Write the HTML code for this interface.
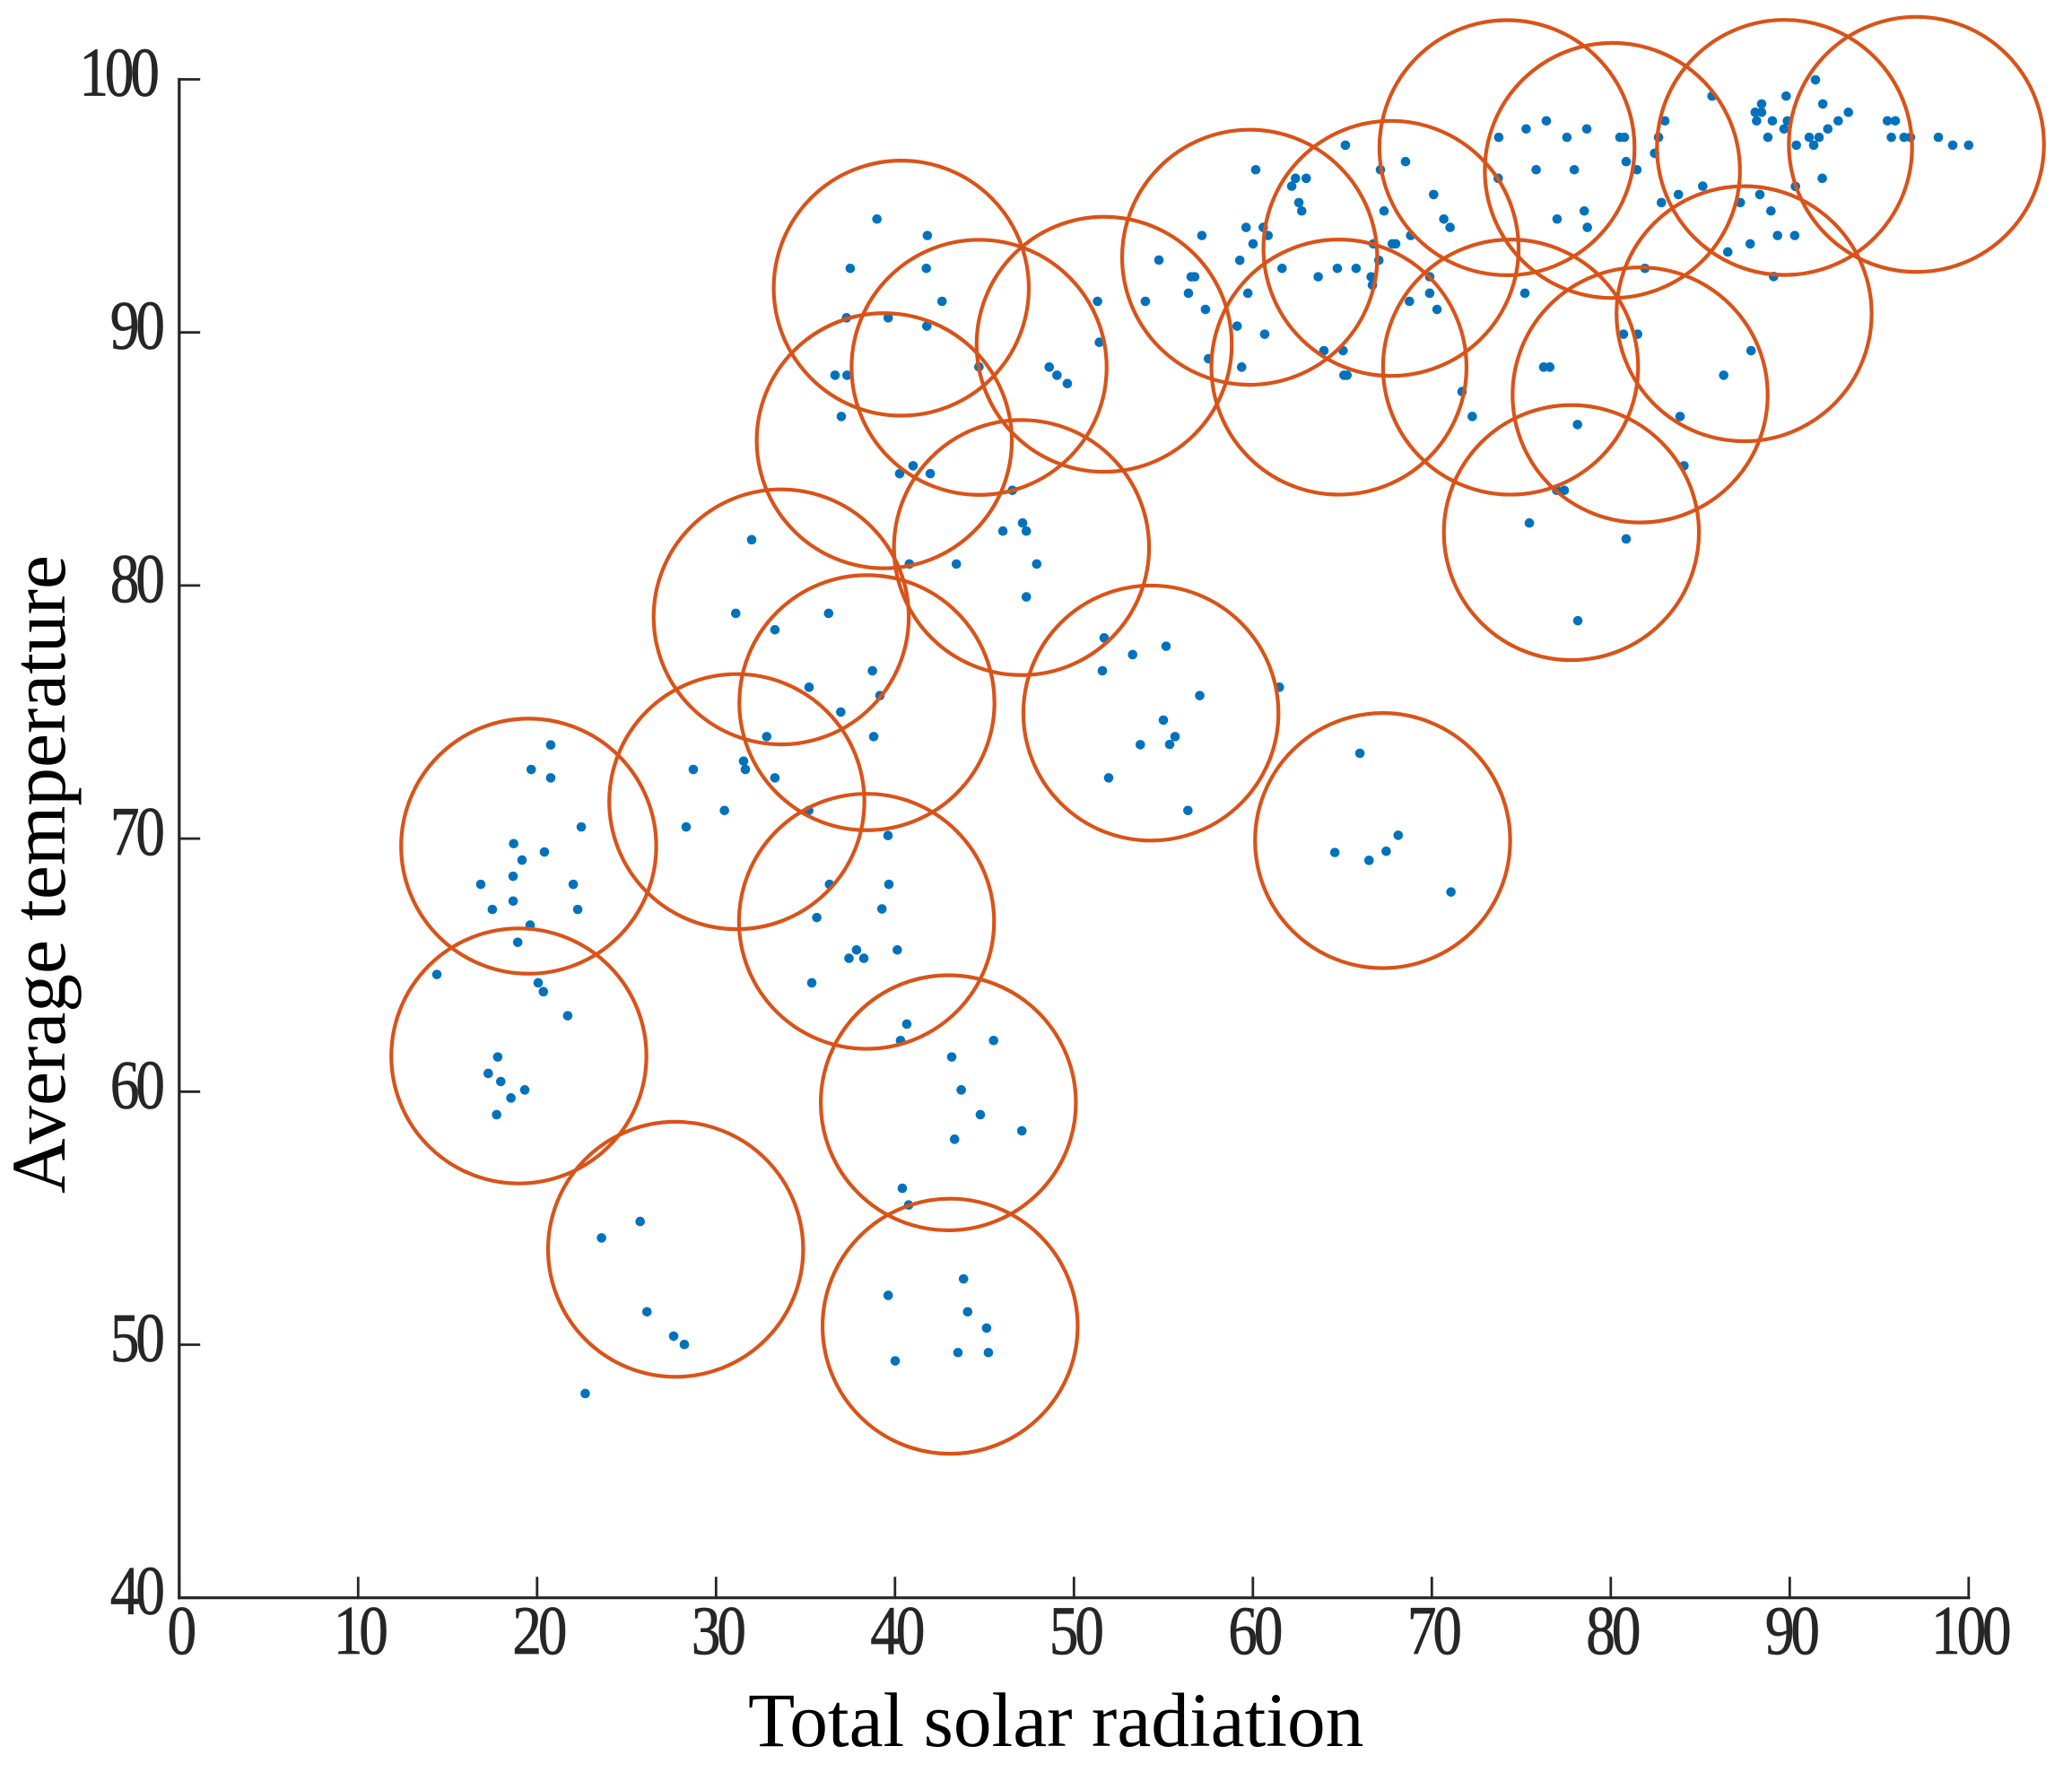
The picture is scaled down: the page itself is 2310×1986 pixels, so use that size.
<!DOCTYPE html>
<html lang="en">
<head>
<meta charset="utf-8">
<title>Total solar radiation vs average temperature</title>
<style>
html,body{margin:0;padding:0;background:#fff;}
svg{display:block;}
text{font-family:"Liberation Serif",serif;}
.tick-label{font-size:77px;fill:#262626;stroke:#262626;stroke-width:0.7px;letter-spacing:-5px;}
.axis-title{font-size:85.4px;fill:#000;}
</style>
</head>
<body>
<svg id="chart" xmlns="http://www.w3.org/2000/svg" width="2310" height="1986" viewBox="0 0 2310 1986">
  <g id="points"></g>
  <g id="circles"></g>
  <g id="axes"></g>
  <text class="axis-title" x="834" y="1947">Total solar radiation</text>
  <text class="axis-title" transform="translate(72,1331) rotate(-90)">Average temperature</text>
</svg>
<script>
const xTicks = [0,10,20,30,40,50,60,70,80,90,100];
const yTicks = [40,50,60,70,80,90,100];
const xTickLabels = ["0","10","20","30","40","50","60","70","80","90","100"];
const yTickLabels = ["40","50","60","70","80","90","100"];

const pointX = [22.69,23.60,25.76,26.14,27.63,28.23,
14.40,20.06,20.35,21.71,17.80,17.27,17.97,19.31,18.54,17.74,
20.76,19.67,20.76,22.47,18.69,20.41,19.16,18.66,16.85,22.02,18.66,17.50,22.27,19.61,18.92,
32.83,31.54,31.64,28.73,33.29,30.47,35.18,28.33,36.34,35.63,37.43,35.35,37.85,40.13,38.26,39.61,39.66,39.27,40.66,40.31,45.51,43.17,43.70,44.77,47.09,43.33,40.41,40.76,43.83,39.62,44.06,45.12,43.52,45.22,40.01,
38.99,41.81,37.50,41.75,42.63,37.29,39.62,41.78,44.69,36.65,37.32,37.00,41.01,40.26,41.97,46.56,47.13,47.34,46.03,47.92,43.43,40.80,31.99,47.34,31.10,36.29,33.29,38.74,35.20,39.16,36.97,38.81,51.32,51.42,48.62,49.05,49.63,54.75,53.99,
60.16,65.17,62.38,62.98,62.17,62.57,62.73,57.15,59.62,60.58,60.85,60.01,59.27,56.55,56.75,56.40,57.35,59.72,61.63,63.65,64.72,65.77,66.73,67.04,66.61,66.68,67.79,67.98,68.82,67.33,67.13,68.53,70.10,70.67,71.02,69.88,69.88,68.75,70.29,75.20,73.74,75.27,76.40,77.55,75.83,73.71,77.00,59.12,60.66,57.52,59.37,63.97,65.04,65.09,65.26,71.69,72.26,76.25,76.59,76.98,77.40,75.45,
78.66,80.51,80.76,83.02,82.67,82.45,80.86,81.46,77.96,78.52,78.69,85.66,88.43,88.07,88.43,88.15,89.03,89.87,89.68,88.78,89.80,91.44,91.85,93.28,92.71,92.13,91.64,91.09,91.34,90.37,95.46,95.90,95.68,96.39,96.75,98.31,99.11,100.0,91.82,90.32,85.14,83.78,82.83,87.24,88.33,88.95,89.32,90.28,87.79,86.54,89.10,81.91,80.71,81.50,87.84,86.31,83.87,78.14,84.09,80.86,78.16,
51.69,53.28,55.15,51.59,55.00,53.71,55.35,55.65,51.94,56.37,57.03,61.48,
65.98,64.58,66.49,67.45,68.12,71.07];

const pointY = [48.07,54.22,54.87,51.30,50.34,50.01,
64.63,64.30,63.95,63.00,61.37,60.72,60.40,60.07,59.75,59.09,
73.70,72.73,72.40,70.46,69.80,69.47,69.15,68.51,68.19,68.19,67.53,67.20,67.20,66.58,65.90,
74.03,73.06,72.73,72.73,72.40,71.11,71.11,70.46,68.19,66.88,65.27,64.30,65.60,65.60,65.27,70.12,68.19,67.22,62.67,62.02,62.02,61.37,60.07,59.09,58.45,58.12,56.18,55.52,52.60,51.95,51.30,50.66,49.69,49.69,49.36,
94.48,93.83,92.53,92.53,91.23,90.58,90.58,90.25,88.64,88.31,88.31,86.68,84.73,84.42,84.42,83.76,82.47,82.15,82.15,80.85,80.85,80.85,81.81,79.55,78.90,78.90,78.25,76.63,75.98,75.65,75.00,74.03,91.23,89.61,88.63,88.31,87.98,92.86,91.23,
96.43,97.40,96.09,96.09,95.78,95.13,94.80,93.83,94.15,94.15,93.83,93.50,92.85,92.20,92.20,91.55,90.91,91.55,92.53,92.20,92.53,92.53,93.50,92.85,92.20,91.87,93.50,93.50,93.83,94.80,96.43,96.75,95.45,94.48,94.15,92.20,91.55,91.23,90.91,91.55,97.71,98.04,98.36,97.71,96.43,96.09,94.48,90.25,89.93,88.96,88.63,89.28,89.28,88.31,88.31,87.66,86.68,88.63,88.63,83.76,83.76,82.47,
98.04,97.71,97.71,98.36,97.71,97.08,96.75,96.43,96.43,94.80,94.15,99.34,99.03,98.70,98.70,98.36,98.36,98.36,98.04,97.71,99.34,99.98,99.03,98.70,98.36,98.04,97.71,97.71,97.40,97.40,98.36,98.36,97.71,97.71,97.71,97.71,97.40,97.40,96.09,95.77,95.78,95.45,95.13,95.13,95.45,94.80,93.83,93.83,93.50,93.18,92.21,92.53,89.93,89.93,89.28,88.31,86.68,86.36,84.73,81.84,78.61,
77.93,77.27,77.60,76.63,74.68,73.71,73.72,74.03,72.40,71.11,75.65,75.98,
73.37,69.45,69.14,69.50,70.13,67.89];

const circleX = [40.35,44.70,51.69,39.40,47.07,33.64,38.43,31.16,19.53,18.98,38.41,42.98,43.08,27.74,54.30,67.25,59.82,64.81,67.72,74.20,74.40,80.09,89.71,97.08,87.45,81.64,77.80];
const circleY = [91.75,88.62,89.53,85.72,81.50,78.76,75.37,71.46,69.70,61.41,66.73,59.56,50.73,53.77,74.96,69.92,92.97,88.63,93.32,97.30,88.63,96.40,97.31,97.43,90.74,87.53,82.09];

const SVG_NS = "http://www.w3.org/2000/svg";
const plotLeft = 199.8, plotRight = 2194.8, plotTop = 88.5, plotBottom = 1781.7;
const xMin = 0, xMax = 100, yMin = 40, yMax = 100;
const circleRadius = 142.2, pointRadius = 5.3, tickLength = 22;
const axisColor = "#262626";
const digitSqueeze = 0.85;

function xScale(v){ return plotLeft + (v - xMin) / (xMax - xMin) * (plotRight - plotLeft); }
function yScale(v){ return plotBottom - (v - yMin) / (yMax - yMin) * (plotBottom - plotTop); }

function drawLine(parent, x1, y1, x2, y2, width, name){
  const el = document.createElementNS(SVG_NS, "line");
  el.setAttribute("x1", x1);
  el.setAttribute("y1", y1);
  el.setAttribute("x2", x2);
  el.setAttribute("y2", y2);
  el.setAttribute("stroke", axisColor);
  el.setAttribute("stroke-width", width);
  el.setAttribute("stroke-linecap", "square");
  
  
  parent.appendChild(el);
}

function drawTickLabel(parent, x, y, anchor, content, name){
  const el = document.createElementNS(SVG_NS, "text");
  el.setAttribute("class", "tick-label");
  el.setAttribute("transform", "translate(" + x + "," + y + ") scale(" + digitSqueeze + ",1)");
  el.setAttribute("text-anchor", anchor);
  el.textContent = content;
  
  
  parent.appendChild(el);
}

const pointsGroup = document.getElementById("points");
const pointCount = Math.min(pointX.length, pointY.length);
for (let i = 0; i < pointCount; i++) {
  const dot = document.createElementNS(SVG_NS, "circle");
  dot.setAttribute("cx", xScale(pointX[i]).toFixed(2));
  dot.setAttribute("cy", yScale(pointY[i]).toFixed(2));
  dot.setAttribute("r", pointRadius);
  dot.setAttribute("fill", "#0072BD");
  
  
  pointsGroup.appendChild(dot);
}

const circlesGroup = document.getElementById("circles");
for (let i = 0; i < circleX.length; i++) {
  const ring = document.createElementNS(SVG_NS, "circle");
  ring.setAttribute("cx", xScale(circleX[i]).toFixed(2));
  ring.setAttribute("cy", yScale(circleY[i]).toFixed(2));
  ring.setAttribute("r", circleRadius);
  ring.setAttribute("fill", "none");
  ring.setAttribute("stroke", "#D95319");
  ring.setAttribute("stroke-width", 4.2);
  
  
  circlesGroup.appendChild(ring);
}

const axesGroup = document.getElementById("axes");
drawLine(axesGroup, plotLeft, plotBottom, plotRight, plotBottom, 3.2, "x-axis-line");
drawLine(axesGroup, plotLeft, plotBottom, plotLeft, plotTop, 3.2, "y-axis-line");

xTicks.forEach(function(t, i){
  const x = xScale(t);
  drawLine(axesGroup, x, plotBottom, x, plotBottom - tickLength, 2.8, "x-tick");
  drawTickLabel(axesGroup, x + 0.9, 1844, "middle", xTickLabels[i], "x-tick-label");
});

yTicks.forEach(function(t, i){
  const y = yScale(t);
  drawLine(axesGroup, plotLeft, y, plotLeft + tickLength, y, 2.8, "y-tick");
  const label = yTickLabels[i];
  const right = label.length > 2 ? 173.75 : 179.75;
  drawTickLabel(axesGroup, right, y + 18, "end", label, "y-tick-label");
});
</script>
</body>
</html>
